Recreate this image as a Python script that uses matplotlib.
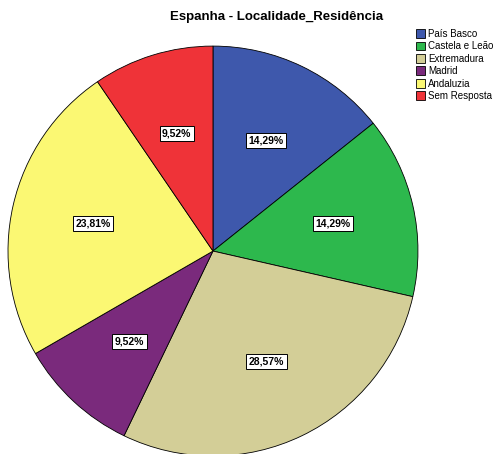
import numpy as np
import matplotlib
matplotlib.use('Agg')
import matplotlib.pyplot as plt

plt.rcParams['font.family'] = ['Liberation Sans', 'DejaVu Sans']

categories = ['País Basco', 'Castela e Leão', 'Extremadura', 'Madrid', 'Andaluzia', 'Sem Resposta']
counts = [3, 3, 6, 2, 5, 2]
colors = ['#3e58ac', '#2db84d', '#d3ce97', '#7a2a7c', '#fbf873', '#ef3338']

fig = plt.figure(figsize=(4.93, 4.54), dpi=100)
ax = fig.add_axes([0.016, -0.0045, 0.832, 0.903])

wedges, texts, autotexts = ax.pie(
    counts, colors=colors, startangle=90, counterclock=False,
    radius=1, pctdistance=0.6,
    autopct=lambda p: ('%.2f%%' % p).replace('.', ','),
    wedgeprops=dict(edgecolor='black', linewidth=0.6))
for t in autotexts:
    t.set_fontsize(7.5)
    t.set_fontweight('bold')
    t.set_bbox(dict(facecolor='white', edgecolor='black', linewidth=0.7, pad=1.8))
ax.set_xlim(-1, 1)
ax.set_ylim(-1, 1)
ax.set_aspect('equal')

fig.text(0.56, 0.962, 'Espanha - Localidade_Residência', ha='center', va='center',
         fontsize=9.5, fontweight='bold')

fig.legend(wedges, categories, loc='upper left', bbox_to_anchor=(0.835, 0.945),
           frameon=False, fontsize=7, handlelength=1.0, handleheight=1.0,
           handletextpad=0.3, labelspacing=0.25, borderaxespad=0)

fig.savefig('out.png', dpi=100)
